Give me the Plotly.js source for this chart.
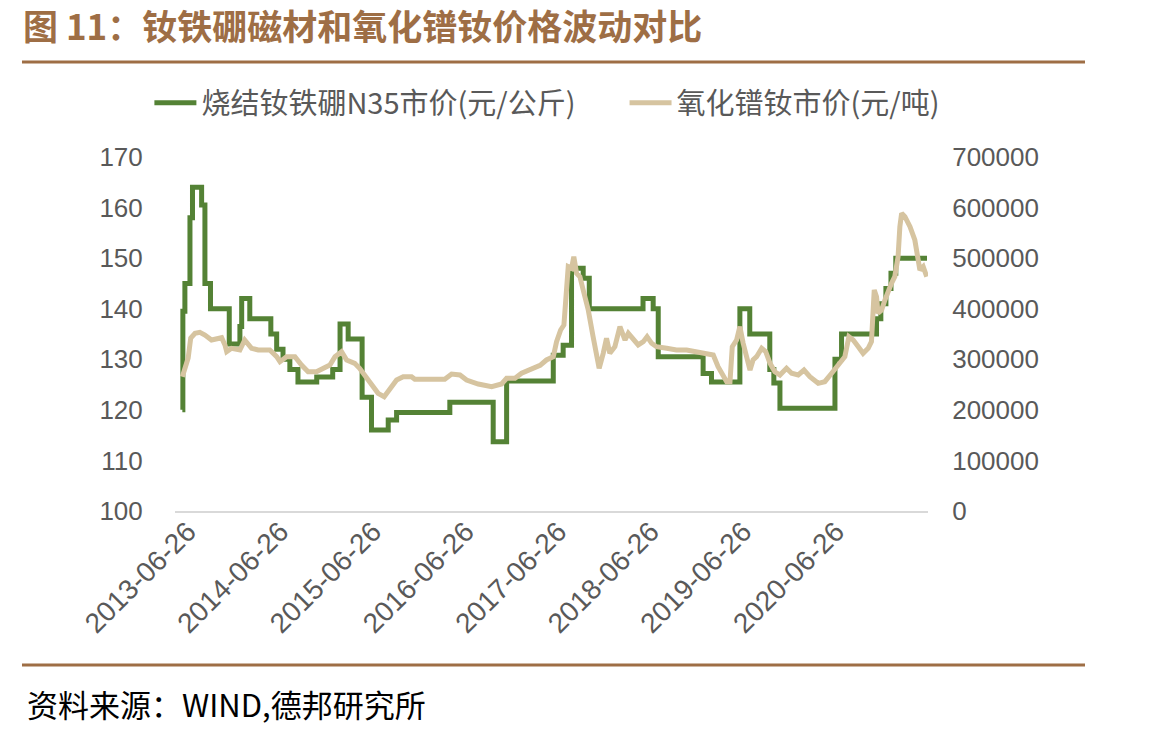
<!DOCTYPE html>
<html>
<head>
<meta charset="utf-8">
<script src="https://cdn.plot.ly/plotly-3.0.1.min.js"></script>
<style>html,body{margin:0;padding:0;background:#fff;}#chart{width:1149px;height:735px;}</style>
</head>
<body>
<div id="chart"></div>
<script>
// 烧结钕铁硼N35市价 (元/公斤) — step series
const ndfebDates = ['2013-06-04','2013-06-06','2013-06-14','2013-07-04','2013-07-14','2013-08-19','2013-09-01','2013-09-23','2013-12-06','2014-01-17','2014-01-24','2014-02-25','2014-05-19','2014-06-11','2014-07-06','2014-08-02','2014-09-03','2014-11-16','2015-01-18','2015-02-16','2015-03-20','2015-05-14','2015-06-20','2015-08-25','2015-09-27','2016-04-24','2016-10-12','2016-12-04','2017-06-06','2017-07-15','2017-08-17','2017-10-02','2017-10-26','2018-05-26','2018-07-05','2018-07-25','2019-01-18','2019-02-20','2019-06-12','2019-07-21','2019-10-08','2019-10-24','2019-11-17','2020-06-21','2020-07-17','2020-12-02','2020-12-19','2021-01-08','2021-01-28','2021-02-16','2021-06-19'];
const ndfebPrice = [120,139.5,145,158,164,160.5,145,140,133,136.5,142,138,135,132,130,128,125.5,126.5,128,137,134,122.5,116,118,119.5,121.5,113.7,125.7,130.8,132.8,148,146,140,142,140,130.5,127.2,125.5,140,135,128,125.3,120.3,130,135,138,141,144,147,150,150];

// 氧化镨钕市价 (元/吨)
const prndDates = ['2013-06-04','2013-06-14','2013-06-27','2013-07-07','2013-07-24','2013-08-12','2013-09-01','2013-09-27','2013-10-17','2013-11-06','2013-11-19','2013-11-26','2013-12-15','2014-01-17','2014-02-05','2014-03-04','2014-03-30','2014-05-15','2014-06-11','2014-06-24','2014-07-20','2014-08-22','2014-09-17','2014-10-13','2014-11-15','2014-12-11','2015-01-07','2015-01-27','2015-02-22','2015-03-14','2015-04-15','2015-05-04','2015-05-24','2015-06-20','2015-07-16','2015-08-09','2015-08-31','2015-09-27','2015-10-23','2015-11-25','2015-12-08','2016-04-04','2016-05-01','2016-06-03','2016-06-29','2016-08-14','2016-10-06','2016-11-14','2016-12-04','2017-01-06','2017-02-01','2017-02-27','2017-04-01','2017-04-15','2017-05-10','2017-06-06','2017-06-19','2017-07-05','2017-07-18','2017-07-29','2017-08-04','2017-08-17','2017-08-26','2017-09-06','2017-09-19','2017-10-02','2017-10-22','2017-11-10','2017-11-24','2017-12-04','2017-12-20','2018-01-02','2018-01-15','2018-02-04','2018-02-24','2018-03-16','2018-03-29','2018-04-18','2018-05-07','2018-05-27','2018-06-11','2018-06-29','2018-07-18','2018-08-27','2018-10-05','2018-11-14','2018-12-23','2019-02-07','2019-02-27','2019-03-18','2019-04-07','2019-04-21','2019-05-04','2019-05-13','2019-05-30','2019-06-12','2019-06-25','2019-07-09','2019-07-22','2019-08-03','2019-08-17','2019-09-06','2019-09-22','2019-10-09','2019-10-28','2019-11-17','2019-12-13','2020-01-02','2020-01-28','2020-02-20','2020-03-14','2020-04-16','2020-05-12','2020-06-08','2020-07-04','2020-07-30','2020-08-15','2020-09-01','2020-09-21','2020-10-10','2020-10-30','2020-11-12','2020-11-23','2020-12-02','2020-12-08','2020-12-22','2021-01-04','2021-01-17','2021-01-30','2021-02-12','2021-02-25','2021-03-04','2021-03-11','2021-03-24','2021-04-13','2021-05-02','2021-05-15','2021-05-22','2021-06-04','2021-06-18'];
const prndPrice = [265600,282800,302500,342100,351400,353400,348000,338100,340100,342700,328300,315000,321700,318400,338100,321700,318400,318400,305100,295200,305100,305100,288700,275400,275400,282200,288700,305100,315000,298600,292000,282200,268900,252500,232700,226000,239300,259000,265600,265600,260400,260400,270900,268900,259000,251100,245800,251100,262400,262400,272300,278800,285300,288000,298600,305100,334800,357900,367800,437000,483100,479900,503000,470000,463300,437000,397500,344700,305100,282200,311800,341500,311800,324900,364500,338100,351400,338100,328300,334800,344700,331600,324900,321700,318400,318400,315000,311800,308500,285300,265600,255700,255700,324900,338100,364500,331600,298600,278800,298600,305100,321700,315000,292000,275400,268900,282200,272300,268900,278800,265600,252500,255700,272300,288700,305100,344700,338100,324900,311800,321700,334800,437000,423800,391000,397500,417200,437000,450300,463300,502900,562200,588700,582000,562200,535900,502900,476600,483100,463300];

const tickDates = ['2013-06-26','2014-06-26','2015-06-26','2016-06-26','2017-06-26','2018-06-26','2019-06-26','2020-06-26'];
const tickLabels = ['2013-06-26','2014-06-26','2015-06-26','2016-06-26','2017-06-26','2018-06-26','2019-06-26','2020-06-26'];

const seriesNames = ['烧结钕铁硼N35市价(元/公斤)', '氧化镨钕市价(元/吨)'];
const titleText = '图 11：钕铁硼磁材和氧化镨钕价格波动对比';
const sourceText = '资料来源：WIND,德邦研究所';

const tickFont = {family: 'Liberation Sans, Arial, sans-serif', size: 26, color: '#595959'};
const xTickFont = {family: 'Liberation Sans, Arial, sans-serif', size: 28, color: '#595959'};
const brown = '#9E6E45';

const traces = [
  {x: ndfebDates, y: ndfebPrice, name: seriesNames[0], type: 'scatter', mode: 'lines',
   line: {color: '#548235', width: 5, shape: 'hv'}, yaxis: 'y', legend: 'legend'},
  {x: prndDates, y: prndPrice, name: seriesNames[1], type: 'scatter', mode: 'lines',
   line: {color: '#D6C4A0', width: 5}, yaxis: 'y2', legend: 'legend2'}
];

const legendFont = {family: 'Noto Sans CJK SC, sans-serif', size: 29, color: '#595959'};

const layout = {
  width: 1149, height: 735,
  margin: {l: 175, r: 221, t: 157, b: 224},
  paper_bgcolor: '#ffffff', plot_bgcolor: '#ffffff',
  title: {text: '<b>' + titleText + '</b>', xref: 'container', yref: 'container', x: 0.02, xanchor: 'left', y: 1 - 28/735, yanchor: 'middle',
          font: {family: 'Noto Sans CJK SC, sans-serif', size: 35, color: brown}},
  showlegend: true,
  legend: {orientation: 'h', x: -0.034, xanchor: 'left', y: 1.1525, yanchor: 'middle', font: legendFont, bgcolor: 'rgba(0,0,0,0)', itemwidth: 42},
  legend2: {orientation: 'h', x: 0.597, xanchor: 'left', y: 1.1525, yanchor: 'middle', font: legendFont, bgcolor: 'rgba(0,0,0,0)', itemwidth: 42},
  xaxis: {type: 'date', range: ['2013-05-06','2021-06-23'], tickmode: 'array', tickvals: tickDates, ticktext: tickLabels,
          tickangle: -45, tickfont: xTickFont, ticks: 'outside', ticklen: 1, tickcolor: 'rgba(0,0,0,0)', ticklabelstandoff: -10,
          showgrid: false, zeroline: false, showline: true, linecolor: '#D9D9D9', linewidth: 2},
  yaxis: {range: [100,170], dtick: 10, tick0: 100, tickfont: tickFont, showgrid: false, zeroline: false, showline: false,
          ticks: 'outside', ticklen: 26, tickcolor: 'rgba(0,0,0,0)'},
  yaxis2: {range: [0,700000], dtick: 100000, tick0: 0, overlaying: 'y', side: 'right', tickformat: 'd', tickfont: tickFont,
           showgrid: false, zeroline: false, showline: false, ticks: 'outside', ticklen: 18, tickcolor: 'rgba(0,0,0,0)'},
  shapes: [
    {type: 'line', xref: 'paper', yref: 'paper', x0: -0.2032, x1: 1.2085, y0: 1.2684, y1: 1.2684, line: {color: brown, width: 3}},
    {type: 'line', xref: 'paper', yref: 'paper', x0: -0.2032, x1: 1.2085, y0: -0.435, y1: -0.435, line: {color: brown, width: 3}}
  ],
  annotations: [
    {text: sourceText, xref: 'paper', yref: 'paper', x: -0.1992, y: -0.5424, xanchor: 'left', yanchor: 'middle', showarrow: false,
     font: {family: 'Noto Sans CJK SC, sans-serif', size: 31, color: '#000000'}}
  ]
};

Plotly.newPlot('chart', traces, layout, {displayModeBar: false, staticPlot: true});
</script>
</body>
</html>
